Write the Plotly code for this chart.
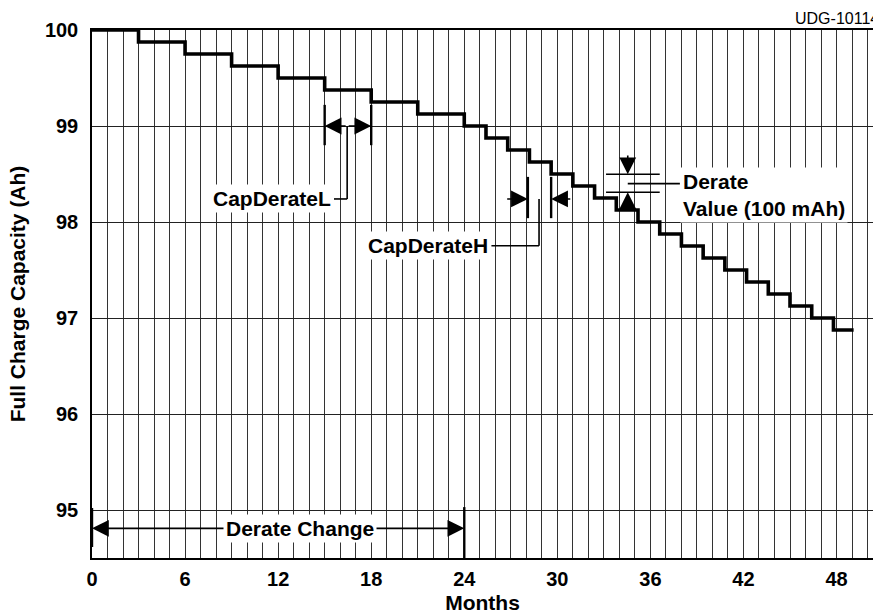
import plotly.graph_objects as go

# ---- data ----
months_step = [0, 3, 6, 9, 12, 15, 18, 21, 24, 25.4, 26.8, 28.2, 29.6, 31.0,
               32.4, 33.8, 35.2, 36.6, 38.0, 39.4, 40.8, 42.2, 43.6, 45.0,
               46.4, 47.8, 49.1]
capacity_ah = [100.0, 99.875, 99.75, 99.625, 99.5, 99.375, 99.25, 99.125,
               99.0, 98.875, 98.75, 98.625, 98.5, 98.375, 98.25, 98.125,
               98.0, 97.875, 97.75, 97.625, 97.5, 97.375, 97.25, 97.125,
               97.0, 96.875, 96.875]
x_tick_vals = [0, 6, 12, 18, 24, 30, 36, 42, 48]
y_tick_vals = [95, 96, 97, 98, 99, 100]

FONT = "Liberation Sans, Arial, sans-serif"
BLACK = "#000000"

fig = go.Figure()
fig.add_trace(go.Scatter(
    x=months_step, y=capacity_ah, mode="lines", line_shape="hv",
    line=dict(color=BLACK, width=3.6), showlegend=False, hoverinfo="skip"))

shapes = []
def vline(x, y0, y1, w=2.4):
    shapes.append(dict(type="line", xref="x", yref="y", x0=x, x1=x, y0=y0, y1=y1,
                       line=dict(color=BLACK, width=w)))
def hline(y, x0, x1, w=1.6):
    shapes.append(dict(type="line", xref="x", yref="y", x0=x0, x1=x1, y0=y, y1=y,
                       line=dict(color=BLACK, width=w)))

# Derate change markers
vline(0, 94.615, 95.02)
vline(24, 94.5, 95.03)
# CapDerateL markers and leader
vline(15, 98.80, 99.22)
vline(18, 98.80, 99.22)
vline(16.45, 98.24, 99.0, 1.6)
hline(98.24, 15.6, 16.45)
# CapDerateH markers and leader
vline(28.1, 98.04, 98.47)
vline(29.6, 98.04, 98.47)
vline(28.82, 97.753, 98.24, 1.6)
hline(97.753, 25.75, 28.82)
# Derate value lines and leader
hline(98.497, 33.14, 36.6)
hline(98.31, 33.14, 36.6)
hline(98.40, 34.54, 37.9)

annotations = []
def arrow(x, y, ax, ay, w=1.6):
    annotations.append(dict(x=x, y=y, ax=ax, ay=ay, xref="x", yref="y",
                            axref="x", ayref="y", text="", showarrow=True,
                            arrowhead=2, arrowsize=2.1, arrowwidth=w,
                            arrowcolor=BLACK, standoff=0))
def label(x, y, text, xanchor, align="left"):
    annotations.append(dict(x=x, y=y, xref="x", yref="y", text=text,
                            showarrow=False, xanchor=xanchor, yanchor="middle",
                            align=align, bgcolor="white", borderpad=2,
                            font=dict(family=FONT, size=21, color=BLACK,
                                      weight="bold")))

# Derate Change arrows
arrow(0, 94.809, 13.4, 94.809)
arrow(24, 94.809, 13.4, 94.809)
# CapDerateL arrows
arrow(15, 99.0, 16.45, 99.0)
arrow(18, 99.0, 16.45, 99.0)
# CapDerateH arrows
arrow(28.1, 98.24, 26.67, 98.24)
arrow(29.6, 98.24, 30.93, 98.24)
# Derate value arrows
arrow(34.54, 98.497, 34.54, 98.708)
arrow(34.54, 98.31, 34.54, 98.107)

label(13.4, 94.809, "Derate Change", "center", "center")
label(15.6, 98.24, "CapDerateL", "right")
label(25.75, 97.753, "CapDerateH", "right")
label(37.9, 98.285, "Derate<br>Value (100 mAh)", "left")

annotations.append(dict(x=0.8976, y=1.0, xref="paper", yref="paper",
                        text="UDG-10114", showarrow=False, xanchor="left",
                        yanchor="bottom", yshift=1,
                        font=dict(family=FONT, size=16, color=BLACK)))

fig.update_layout(
    template="none",
    width=873, height=614,
    margin=dict(l=92, r=0, t=30, b=56),
    paper_bgcolor="white", plot_bgcolor="white",
    font=dict(family=FONT, color=BLACK),
    shapes=shapes, annotations=annotations,
    showlegend=False,
    xaxis=dict(
        range=[0, 50.35], tickmode="array", tickvals=x_tick_vals,
        ticks="", ticklabelstandoff=2,
        tickfont=dict(family=FONT, size=20, weight="bold", color=BLACK),
        showgrid=True, gridcolor="#333333", gridwidth=1,
        minor=dict(tick0=0, dtick=1, showgrid=True, gridcolor="#333333",
                   gridwidth=1, ticks=""),
        showline=True, linecolor=BLACK, linewidth=1.8, mirror=True,
        zeroline=False, automargin=False,
        title=dict(text="Months", standoff=8,
                   font=dict(family=FONT, size=21, weight="bold", color=BLACK)),
    ),
    yaxis=dict(
        range=[94.5, 100], tickmode="array", tickvals=y_tick_vals,
        ticks="", ticklabelstandoff=8,
        tickfont=dict(family=FONT, size=20, weight="bold", color=BLACK),
        showgrid=True, gridcolor="#222222", gridwidth=1.3,
        showline=True, linecolor=BLACK, linewidth=1.5, mirror=False,
        zeroline=False, automargin=False,
        title=dict(text="Full Charge Capacity (Ah)", standoff=14,
                   font=dict(family=FONT, size=21, weight="bold", color=BLACK)),
    ),
)

fig.write_html(
    "out.html",
    config={"displayModeBar": False},
    post_script="document.body.style.margin='0';document.body.style.overflow='hidden';",
)
